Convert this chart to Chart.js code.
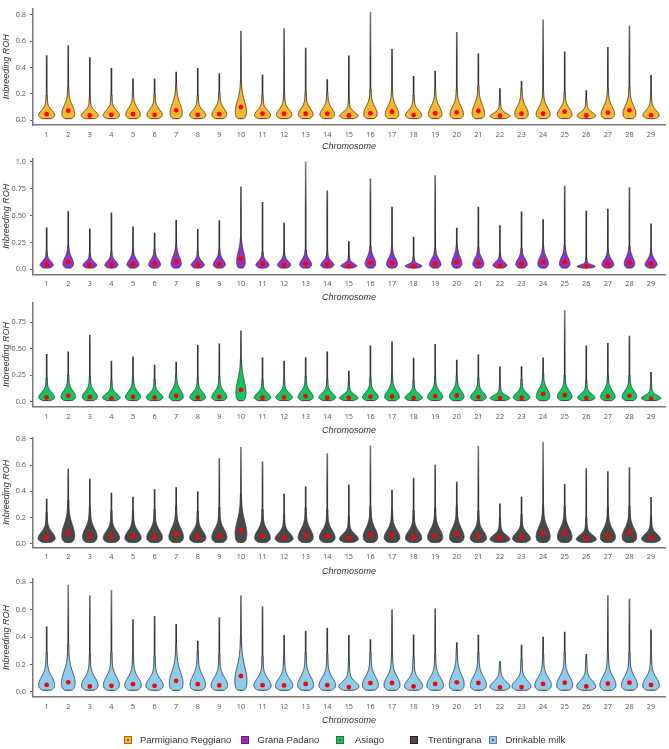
<!DOCTYPE html>
<html>
<head>
<meta charset="utf-8">
<script src="https://cdn.jsdelivr.net/npm/chart.js@4.4.1/dist/chart.umd.min.js"></script>
<style>
  html,body{margin:0;padding:0;background:#fff;}
  #wrap{position:relative;width:669px;height:749px;overflow:hidden;background:#fff;}
  canvas{position:absolute;left:0;}
  .leg{position:absolute;top:733px;height:14px;font-family:"Liberation Sans",Arial,sans-serif;font-size:9.5px;color:#333;line-height:14px;white-space:nowrap;}
  .mk{position:absolute;width:6px;height:6px;border:1px solid #777;top:736px;}
  .mk i{position:absolute;left:2px;top:2px;width:2px;height:2px;border-radius:50%;background:#ff0000;}
</style>
</head>
<body>
<div id="wrap"></div>
<script>
// ---------------- data ----------------
const chromosomes = [1,2,3,4,5,6,7,8,9,10,11,12,13,14,15,16,17,18,19,20,21,22,23,24,25,26,27,28,29];
const breeds = ["Parmigiano Reggiano","Grana Padano","Asiago","Trentingrana","Drinkable milk"];
const xTitle = "Chromosome";
const yTitle = "Inbreeding ROH";
const roshMin = 0.012;

const ticks02 = [0, 0.2, 0.4, 0.6, 0.8];
const labels02 = ["0.0","0.2","0.4","0.6","0.8"];
const ticks025 = [0, 0.25, 0.5, 0.75, 1.0];
const labels025 = ["0.0","0.25","0.50","0.75","1.0"];
const ticks025b = [0, 0.25, 0.5, 0.75];
const labels025b = ["0.0","0.25","0.50","0.75"];

// Parmigiano Reggiano
const prMax  = [0.49,0.566,0.475,0.393,0.313,0.313,0.364,0.393,0.354,0.675,0.342,0.694,0.547,0.308,0.487,0.819,0.537,0.333,0.373,0.665,0.504,0.239,0.294,0.761,0.518,0.224,0.552,0.713,0.34];
const prMean = [0.046,0.072,0.036,0.041,0.046,0.041,0.075,0.041,0.046,0.099,0.05,0.05,0.05,0.05,0.036,0.053,0.065,0.039,0.053,0.06,0.07,0.034,0.05,0.05,0.065,0.036,0.058,0.075,0.039];
const prBody = [0.1,0.15,0.09,0.1,0.12,0.11,0.17,0.1,0.12,0.2,0.1,0.11,0.12,0.12,0.08,0.14,0.14,0.1,0.14,0.14,0.16,0.07,0.14,0.13,0.12,0.08,0.14,0.15,0.1];

// Grana Padano
const gpMax  = [0.386,0.537,0.377,0.525,0.395,0.338,0.457,0.371,0.454,0.769,0.623,0.43,1.0,0.73,0.258,0.843,0.579,0.3,0.872,0.383,0.579,0.407,0.534,0.463,0.774,0.543,0.561,0.76,0.424];
const gpMean = [0.045,0.068,0.036,0.039,0.045,0.053,0.074,0.042,0.045,0.098,0.053,0.042,0.053,0.045,0.027,0.062,0.056,0.027,0.05,0.065,0.056,0.033,0.05,0.068,0.065,0.027,0.047,0.062,0.05];
const gpBody = [0.1,0.15,0.09,0.1,0.12,0.12,0.16,0.1,0.12,0.22,0.1,0.1,0.12,0.1,0.07,0.15,0.14,0.06,0.13,0.16,0.14,0.09,0.13,0.15,0.15,0.05,0.12,0.15,0.12];

// Asiago
const asMax  = [0.446,0.47,0.625,0.384,0.423,0.345,0.375,0.533,0.545,0.667,0.417,0.384,0.417,0.47,0.289,0.527,0.565,0.411,0.542,0.393,0.443,0.33,0.333,0.414,0.857,0.527,0.55,0.619,0.277];
const asMean = [0.042,0.057,0.045,0.033,0.048,0.042,0.057,0.042,0.048,0.113,0.039,0.042,0.054,0.039,0.039,0.048,0.051,0.036,0.054,0.06,0.045,0.036,0.039,0.074,0.065,0.036,0.051,0.057,0.03];
const asBody = [0.12,0.14,0.13,0.1,0.13,0.11,0.15,0.12,0.13,0.28,0.11,0.11,0.13,0.11,0.09,0.12,0.14,0.1,0.13,0.14,0.12,0.08,0.11,0.16,0.14,0.1,0.14,0.14,0.08];

// Trentingrana
const trMax  = [0.341,0.571,0.494,0.387,0.356,0.414,0.429,0.397,0.649,0.736,0.625,0.38,0.436,0.685,0.45,0.746,0.409,0.501,0.6,0.47,0.745,0.305,0.356,0.775,0.453,0.574,0.55,0.581,0.354];
const trMean = [0.048,0.085,0.063,0.053,0.058,0.053,0.075,0.053,0.06,0.102,0.06,0.046,0.065,0.058,0.044,0.07,0.068,0.051,0.063,0.075,0.056,0.046,0.051,0.08,0.082,0.039,0.063,0.085,0.046];
const trBody = [0.12,0.2,0.16,0.13,0.13,0.14,0.16,0.13,0.15,0.24,0.14,0.11,0.15,0.14,0.1,0.16,0.14,0.13,0.15,0.16,0.13,0.09,0.11,0.17,0.16,0.09,0.15,0.16,0.1];

// Drinkable milk
const dmMax  = [0.474,0.78,0.7,0.74,0.528,0.551,0.493,0.37,0.542,0.7,0.623,0.412,0.442,0.465,0.412,0.381,0.598,0.416,0.605,0.36,0.414,0.221,0.342,0.4,0.437,0.274,0.702,0.677,0.453];
const dmMean = [0.051,0.07,0.04,0.044,0.056,0.044,0.081,0.056,0.047,0.116,0.049,0.047,0.058,0.049,0.035,0.065,0.065,0.04,0.058,0.07,0.065,0.033,0.035,0.058,0.067,0.04,0.06,0.067,0.051];
const dmBody = [0.15,0.2,0.14,0.15,0.14,0.13,0.2,0.16,0.14,0.25,0.13,0.13,0.15,0.14,0.1,0.15,0.15,0.12,0.14,0.17,0.15,0.1,0.11,0.14,0.15,0.11,0.15,0.15,0.14];

// ---------------- layout / style ----------------
const colors = ["#FBB829","#9132C9","#13C463","#484848","#8CCDEF"];
const markBorders = ["#9a7320","#5a2080","#1a7a40","#222222","#5a8aa8"];
const layout = [
  {areaTop:2.5, areaBottom:125,   titleY:146, yMin:-0.036, yMax:0.847},
  {areaTop:153, areaBottom:274.3, titleY:297, yMin:-0.047, yMax:1.033},
  {areaTop:297, areaBottom:406.7, titleY:430, yMin:-0.045, yMax:0.935},
  {areaTop:432, areaBottom:547.3, titleY:571, yMin:-0.026, yMax:0.811},
  {areaTop:573, areaBottom:696.7, titleY:720, yMin:-0.035, yMax:0.828}
];
const panelData = [
  {max:prMax, mean:prMean, body:prBody, ticks:ticks02,  labels:labels02},
  {max:gpMax, mean:gpMean, body:gpBody, ticks:ticks025, labels:labels025},
  {max:asMax, mean:asMean, body:asBody, ticks:ticks025b,labels:labels025b},
  {max:trMax, mean:trMean, body:trBody, ticks:ticks02,  labels:labels02},
  {max:dmMax, mean:dmMean, body:dmBody, ticks:ticks02,  labels:labels02}
];

const violinPlugin = {
  id: 'violin',
  afterDatasetDraw(chart, args, opts) {
    if (args.meta.type !== 'bar') return;
    const {ctx} = chart;
    const x = chart.scales.x, y = chart.scales.y;
    const body = opts.body, max = opts.max, floor = opts.floor;
    const spans = body.map(b => b - floor);
    const sMin = Math.min(...spans);
    const y0 = y.getPixelForValue(floor);
    ctx.save();
    ctx.beginPath();
    ctx.rect(chart.chartArea.left, chart.chartArea.top, chart.chartArea.right - chart.chartArea.left, chart.chartArea.bottom - chart.chartArea.top);
    ctx.clip();
    body.forEach((b, i) => {
      const s = spans[i];
      const W = opts.maxHalf * Math.sqrt(sMin / s);
      const cx = x.getPixelForValue(chromosomes[i]);
      const pts = [];
      const N = 140;
      for (let k = 0; k <= N; k++) {
        const v = floor + (max[i] - floor) * Math.pow(k / N, 2);
        const u = (v - floor) / s;
        const p = 0.3;
        let d = u <= p ? 1 - 0.3 * Math.pow((p - u) / p, 2) : Math.exp(-Math.pow((u - p) / 0.58, 2));
        const t = 0.25 * Math.exp(-Math.max(u - p, 0) / 1.6);
        let h = W * (d + t) / 1.25;
        const py = y.getPixelForValue(v);
        const dp = y0 - py;
        const r = dp >= 2.5 ? 1 : 0.62 + 0.38 * Math.sqrt(dp / 2.5);
        h *= r;
        if (h < 0.55 && k > 2) { pts.push([0.3, py]); break; }
        pts.push([h, py]);
      }
      ctx.beginPath();
      ctx.moveTo(cx - pts[0][0], pts[0][1]);
      for (let k = 1; k < pts.length; k++) ctx.lineTo(cx - pts[k][0], pts[k][1]);
      for (let k = pts.length - 1; k >= 0; k--) ctx.lineTo(cx + pts[k][0], pts[k][1]);
      ctx.closePath();
      ctx.fillStyle = opts.fill;
      ctx.fill();
      ctx.lineWidth = 0.9;
      ctx.strokeStyle = '#3a3a3a';
      ctx.lineJoin = 'round';
      ctx.stroke();
    });
    ctx.restore();
  }
};

function tailColor(context) {
  const chart = context.chart;
  const ca = chart.chartArea;
  if (!ca) return '#444';
  const g = chart.ctx.createLinearGradient(0, ca.bottom, 0, ca.top);
  g.addColorStop(0, '#2a2a2a');
  g.addColorStop(0.55, '#3a3a3a');
  g.addColorStop(1, '#8a8a8a');
  return g;
}

const wrap = document.getElementById('wrap');
const titleFont = {family: '"Liberation Sans", Arial, sans-serif', size: 9, style: 'italic', lineHeight: 1.2};
const tickFont = {family: '"Open Sans", "DejaVu Sans", sans-serif', size: 7.3};

layout.forEach((L, pi) => {
  const D = panelData[pi];
  const canvasTop = Math.round(L.areaTop) - 3;
  const padTop = L.areaTop - canvasTop;
  const H = Math.round(L.titleY - canvasTop + 8);
  const xHeight = H - (L.areaBottom - canvasTop);
  const titlePadBottom = H - (L.titleY - canvasTop) - 9 * 1.2 / 2;
  const cv = document.createElement('canvas');
  cv.width = 669; cv.height = H;
  cv.style.top = canvasTop + 'px';
  cv.style.width = '669px'; cv.style.height = H + 'px';
  wrap.appendChild(cv);

  new Chart(cv.getContext('2d'), {
    type: 'bar',
    data: {
      datasets: [
        {
          type: 'bar',
          label: breeds[pi] + ' range',
          data: chromosomes.map((c, i) => ({x: c, y: [roshMin, D.max[i]]})),
          backgroundColor: tailColor,
          borderWidth: 0,
          barThickness: 1,
          order: 2
        },
        {
          type: 'scatter',
          label: breeds[pi],
          data: chromosomes.map((c, i) => ({x: c, y: D.mean[i]})),
          backgroundColor: '#ff0000',
          borderWidth: 0,
          pointRadius: 2.4,
          order: 1
        }
      ]
    },
    options: {
      responsive: false,
      animation: false,
      devicePixelRatio: 1,
      layout: {padding: {top: padTop, left: 0, right: 2, bottom: 0}},
      plugins: {
        legend: {display: false},
        tooltip: {enabled: false},
        violin: {body: D.body, max: D.max, floor: roshMin, maxHalf: 10, fill: colors[pi]}
      },
      scales: {
        x: {
          type: 'linear',
          offset: false,
          min: 0.367, max: 29.647,
          afterBuildTicks: s => { s.ticks = chromosomes.map(v => ({value: v})); },
          afterFit: s => { s.height = xHeight; },
          ticks: {font: tickFont, color: '#555', padding: 5.6, callback: v => String(v), autoSkip: false, maxRotation: 0},
          grid: {display: false, drawTicks: false, offset: false},
          border: {display: true, color: '#777', width: 1.5},
          title: {display: true, text: xTitle, font: titleFont, color: '#333', padding: {top: 0, bottom: titlePadBottom}}
        },
        y: {
          type: 'linear',
          min: L.yMin, max: L.yMax,
          afterBuildTicks: s => { s.ticks = D.ticks.map(v => ({value: v})); },
          afterFit: s => { s.width = 33; },
          ticks: {font: tickFont, color: '#555', padding: 4, callback: (v, i) => D.labels[i]},
          grid: {display: true, drawOnChartArea: false, drawTicks: true, tickLength: 3, color: '#666', lineWidth: 1},
          border: {display: true, color: '#777', width: 1.5},
          title: {display: true, text: yTitle, font: titleFont, color: '#333', padding: {top: 0.6, bottom: 0}}
        }
      }
    },
    plugins: [violinPlugin]
  });
});

// legend
const legPos = [{m:128, t:140},{m:244.5, t:257.5},{m:340, t:355},{m:414, t:428},{m:493, t:505.5}];
breeds.forEach((name, i) => {
  const mk = document.createElement('div');
  mk.className = 'mk';
  mk.style.left = (legPos[i].m - 4) + 'px';
  mk.style.background = colors[i];
  mk.style.borderColor = markBorders[i];
  mk.appendChild(document.createElement('i'));
  wrap.appendChild(mk);
  const tx = document.createElement('div');
  tx.className = 'leg';
  tx.style.left = legPos[i].t + 'px';
  tx.textContent = name;
  wrap.appendChild(tx);
});
</script>
</body>
</html>
